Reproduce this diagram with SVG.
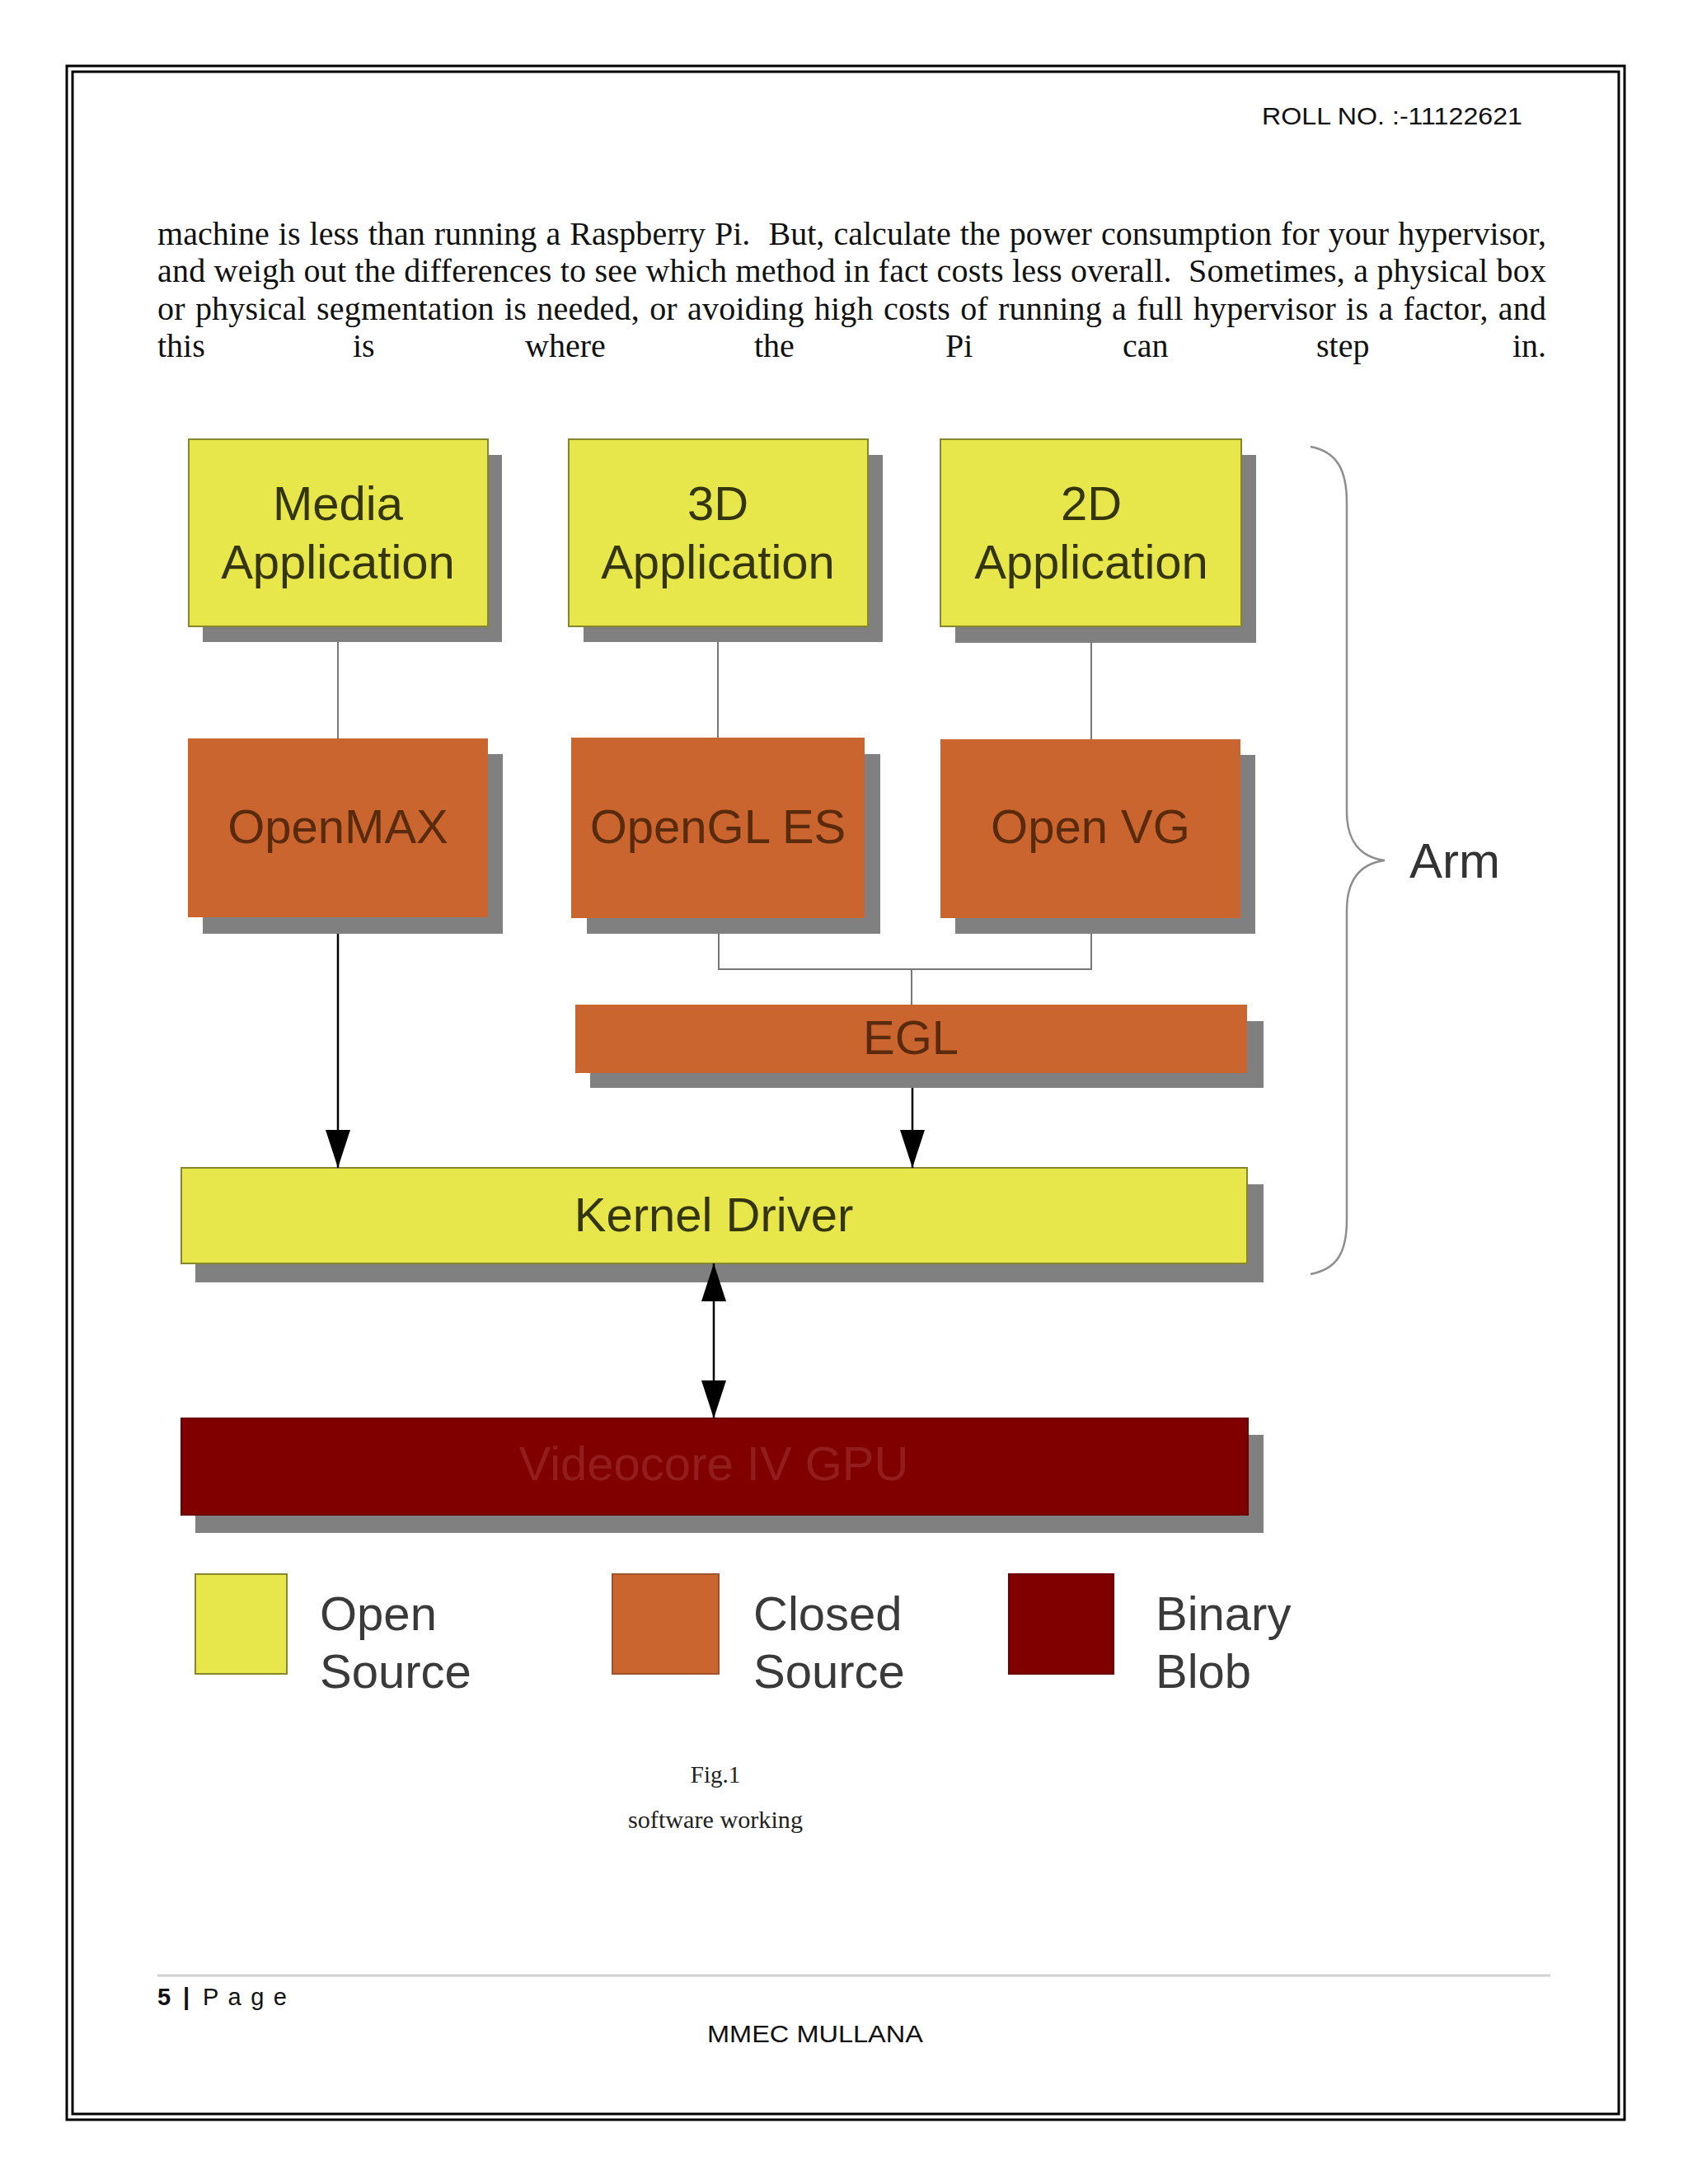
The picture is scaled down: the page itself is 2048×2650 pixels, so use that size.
<svg xmlns="http://www.w3.org/2000/svg" width="2048" height="2650" viewBox="0 0 2048 2650">
<style>
.para{font-family:"Liberation Serif","Times New Roman",serif;font-size:40px;fill:#111}
.hdr{font-family:"Liberation Sans",Arial,sans-serif;font-size:29px;fill:#111}
.lbl{font-family:"Liberation Sans",Arial,sans-serif;font-size:58px;text-anchor:middle}
.onY{fill:#35350c}
.onO{fill:#5a2a0c}
.onR{fill:#931d1d}
.leg{font-family:"Liberation Sans",Arial,sans-serif;font-size:58px;fill:#3a3a3a}
.cap{font-family:"Liberation Serif","Times New Roman",serif;font-size:29px;fill:#222;text-anchor:middle}
.shadow{fill:#808080}
.yel{fill:#e7e64b;stroke:#86862c;stroke-width:2}
.org{fill:#cb6530}
.red{fill:#800000;stroke:#6a0000;stroke-width:2}
.thin{stroke:#777;stroke-width:2;fill:none}
.arr{stroke:#000;stroke-width:2.5;fill:none}
</style>
<defs>
<marker id="ah" viewBox="0 0 46 30" refX="46" refY="15" markerWidth="46" markerHeight="30" markerUnits="userSpaceOnUse" orient="auto-start-reverse">
<path d="M0,0 L46,15 L0,30 z" fill="#000"/>
</marker>
</defs>
<rect x="0" y="0" width="2048" height="2650" fill="#fff"/>
<g id="page-border" fill="none" stroke="#000">
<rect x="81" y="80" width="1890" height="2492" stroke-width="3"/>
<rect x="88" y="87" width="1876" height="2478" stroke-width="3"/>
</g>
<text class="hdr" x="1531" y="151" textLength="316" lengthAdjust="spacingAndGlyphs">ROLL NO. :-11122621</text>
<g id="paragraph">
<text class="para" x="191" y="297" textLength="1685" lengthAdjust="spacing" xml:space="preserve" word-spacing="1">machine is less than running a Raspberry Pi.  But, calculate the power consumption for your hypervisor,</text>
<text class="para" x="191" y="342" textLength="1685" lengthAdjust="spacing" xml:space="preserve">and weigh out the differences to see which method in fact costs less overall.  Sometimes, a physical box</text>
<text class="para" x="191" y="388" textLength="1685" lengthAdjust="spacing" word-spacing="2">or physical segmentation is needed, or avoiding high costs of running a full hypervisor is a factor, and</text>
<text class="para" y="433"><tspan x="191">this</tspan><tspan x="428">is</tspan><tspan x="637">where</tspan><tspan x="915">the</tspan><tspan x="1147">Pi</tspan><tspan x="1362">can</tspan><tspan x="1597">step</tspan><tspan x="1876" text-anchor="end">in.</tspan></text>
</g>
<g id="media-app">
<rect class="shadow" x="246" y="552" width="363" height="227"/>
<rect class="yel" x="229" y="533" width="363" height="227"/>
<text class="lbl onY" x="410" y="631">Media</text>
<text class="lbl onY" x="410" y="702">Application</text>
</g>
<g id="app-3d">
<rect class="shadow" x="708" y="552" width="363" height="227"/>
<rect class="yel" x="690" y="533" width="363" height="227"/>
<text class="lbl onY" x="871" y="631">3D</text>
<text class="lbl onY" x="871" y="702">Application</text>
</g>
<g id="app-2d">
<rect class="shadow" x="1159" y="552" width="365" height="228"/>
<rect class="yel" x="1141" y="533" width="365" height="227"/>
<text class="lbl onY" x="1324" y="631">2D</text>
<text class="lbl onY" x="1324" y="702">Application</text>
</g>
<g id="openmax">
<rect class="shadow" x="246" y="915" width="364" height="218"/>
<rect class="org" x="228" y="896" width="364" height="217"/>
<text class="lbl onO" x="410" y="1023">OpenMAX</text>
</g>
<g id="opengl-es">
<rect class="shadow" x="712" y="915" width="356" height="218"/>
<rect class="org" x="693" y="895" width="356" height="219"/>
<text class="lbl onO" x="871" y="1023">OpenGL ES</text>
</g>
<g id="open-vg">
<rect class="shadow" x="1159" y="916" width="364" height="217"/>
<rect class="org" x="1141" y="897" width="364" height="217"/>
<text class="lbl onO" x="1323" y="1023">Open VG</text>
</g>
<g id="egl">
<rect class="shadow" x="716" y="1239" width="817" height="81"/>
<rect class="org" x="698" y="1219" width="815" height="83"/>
<text class="lbl onO" x="1105" y="1279">EGL</text>
</g>
<g id="kernel-driver">
<rect class="shadow" x="237" y="1437" width="1296" height="119"/>
<rect class="yel" x="220" y="1417" width="1293" height="116"/>
<text class="lbl onY" x="866" y="1494">Kernel Driver</text>
</g>
<g id="videocore">
<rect class="shadow" x="237" y="1741" width="1296" height="119"/>
<rect class="red" x="220" y="1721" width="1294" height="117"/>
<text class="lbl onR" x="866" y="1796">Videocore IV GPU</text>
</g>
<g id="connectors">
<line class="thin" x1="410" y1="779" x2="410" y2="896"/>
<line class="thin" x1="871" y1="779" x2="871" y2="895"/>
<line class="thin" x1="1324" y1="780" x2="1324" y2="897"/>
<polyline class="thin" points="872,1133 872,1176 1324,1176 1324,1133"/>
<line class="thin" x1="1106" y1="1176" x2="1106" y2="1219"/>
<line class="arr" x1="410" y1="1133" x2="410" y2="1417" marker-end="url(#ah)"/>
<line class="arr" x1="1107" y1="1320" x2="1107" y2="1417" marker-end="url(#ah)"/>
<line class="arr" x1="866" y1="1533" x2="866" y2="1721" marker-start="url(#ah)" marker-end="url(#ah)"/>
</g>
<g id="arm-brace">
<path d="M1590,542 C1622,548 1634,570 1634,610 L1634,985 C1634,1020 1650,1040 1680,1044 C1650,1048 1634,1068 1634,1105 L1634,1480 C1634,1520 1622,1540 1590,1546" fill="none" stroke="#8e8e8e" stroke-width="2.5"/>
<text x="1710" y="1065" font-family="Liberation Sans, Arial, sans-serif" font-size="60" fill="#333">Arm</text>
</g>
<g id="legend-open">
<rect class="yel" x="237" y="1910" width="111" height="121"/>
<text class="leg" x="388" y="1978">Open</text>
<text class="leg" x="388" y="2048">Source</text>
</g>
<g id="legend-closed">
<rect class="org" x="743" y="1910" width="129" height="121" stroke="#a0522d" stroke-width="2"/>
<text class="leg" x="914" y="1978">Closed</text>
<text class="leg" x="914" y="2048">Source</text>
</g>
<g id="legend-binary">
<rect class="red" x="1224" y="1910" width="127" height="121"/>
<text class="leg" x="1402" y="1978">Binary</text>
<text class="leg" x="1402" y="2048">Blob</text>
</g>
<text class="cap" x="868" y="2163">Fig.1</text>
<text class="cap" x="868" y="2218" textLength="212" lengthAdjust="spacingAndGlyphs">software working</text>
<line x1="191" y1="2397" x2="1881" y2="2397" stroke="#d0d0d0" stroke-width="3"/>
<text class="hdr" x="191" y="2433" font-weight="bold">5</text>
<text class="hdr" x="222" y="2433" font-weight="bold">|</text>
<text class="hdr" x="246" y="2433" fill="#7a7a7a" textLength="102" lengthAdjust="spacing">P a g e</text>
<text class="hdr" x="989" y="2478" text-anchor="middle" font-size="31" textLength="262" lengthAdjust="spacingAndGlyphs">MMEC MULLANA</text>
</svg>
